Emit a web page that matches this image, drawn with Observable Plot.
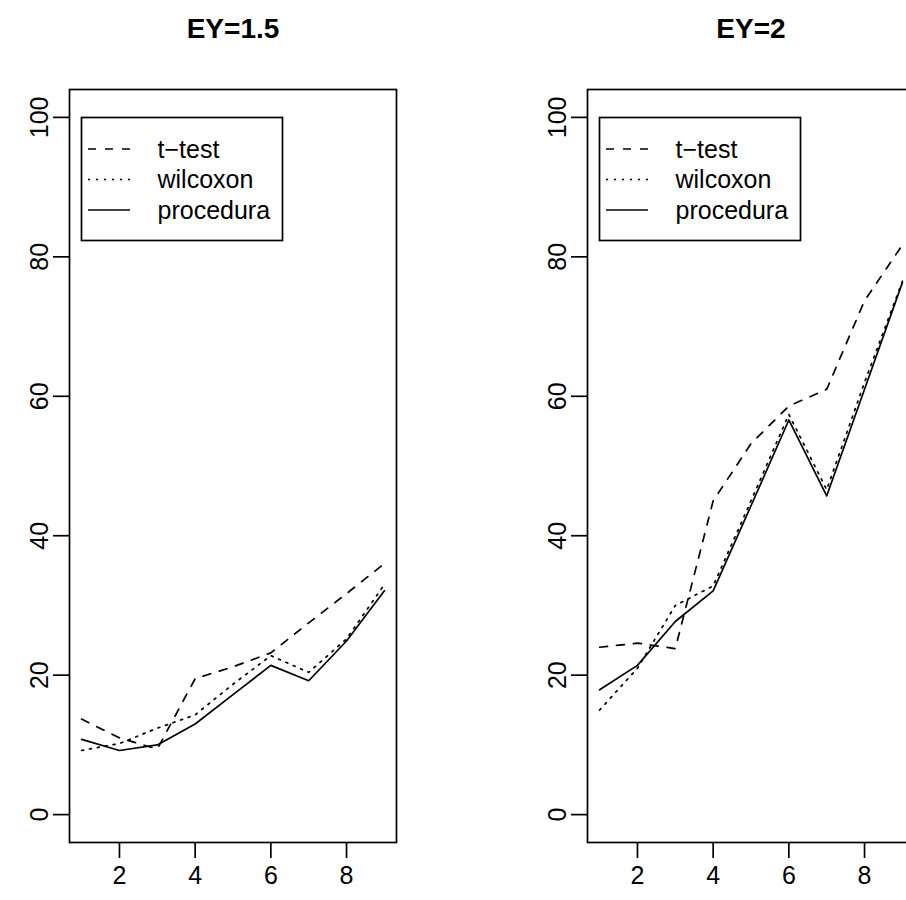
<!DOCTYPE html>
<html>
<head>
<meta charset="utf-8">
<script src="https://cdn.jsdelivr.net/npm/d3@7"></script>
<script src="https://cdn.jsdelivr.net/npm/@observablehq/plot@0.6"></script>
<style>
  html, body { margin: 0; padding: 0; background: white; }
  #wrap { position: relative; width: 906px; height: 900px; overflow: hidden; background: white; }
  #wrap > div { position: absolute; top: 0; width: 518px; height: 900px; }
  #wrap svg { max-width: none !important; }
  #p1 { left: 0; }
  #p2 { left: 518px; }
</style>
</head>
<body>
<div id="wrap"><div id="p1"></div><div id="p2"></div></div>
<script>
// ---- data ----
const xs = [1, 2, 3, 4, 5, 6, 7, 8, 9];
const panelTitles = ["EY=1.5", "EY=2"];
const seriesNames = ["t\u2212test", "wilcoxon", "procedura"];

const ttest15     = [13.7, 11.0, 9.4, 19.5, 21.2, 23.2, 27.5, 31.7, 36.0];
const wilcoxon15  = [9.2, 10.2, 12.4, 14.3, 18.7, 22.8, 20.4, 25.2, 33.0];
const procedura15 = [10.8, 9.2, 10.0, 13.0, 17.2, 21.4, 19.2, 24.9, 32.1];

const ttest2      = [24.0, 24.6, 23.8, 45.0, 53.2, 58.6, 61.0, 73.7, 81.7];
const wilcoxon2   = [15.0, 21.0, 30.0, 32.8, 45.0, 57.4, 46.6, 62.0, 76.5];
const procedura2  = [17.9, 21.4, 27.7, 32.1, 44.3, 56.6, 45.7, 61.0, 76.3];

const xTicks = [2, 4, 6, 8];
const yTicks = [0, 20, 40, 60, 80, 100];

// ---- styling ----
const FONT = "'Liberation Sans', Arial, Helvetica, sans-serif";
const dashes = ["8,9", "2,6", null];
const LW = 1.7;
const FS = 25;

function panel(title, series) {
  const rows = [];
  series.forEach((vals, si) => vals.forEach((v, i) => rows.push({x: xs[i], y: v, s: si})));
  const lineMarks = series.map((vals, si) =>
    Plot.lineY(rows.filter(r => r.s === si), {
      x: "x", y: "y", stroke: "black", strokeWidth: LW,
      strokeDasharray: dashes[si] ?? undefined
    })
  );
  const chart = Plot.plot({
    width: 518, height: 900,
    marginLeft: 69, marginRight: 122, marginTop: 89, marginBottom: 58,
    x: {domain: [0.68, 9.32], label: null},
    y: {domain: [-4, 104], label: null},
    style: {fontFamily: FONT, fontSize: FS + "px", background: "white", color: "black", overflow: "visible", maxWidth: "none"},
    marks: [
      Plot.axisX({ticks: xTicks, tickSize: 16, tickPadding: 8, fontSize: FS, strokeWidth: LW, label: null}),
      Plot.axisY({ticks: yTicks, tickSize: 16, tickPadding: 6, tickRotate: -90, fontSize: FS, strokeWidth: LW, label: null}),
      ...lineMarks,
      Plot.frame({stroke: "black", strokeWidth: LW}),
      Plot.text([title], {frameAnchor: "top", dy: -60, fontWeight: "bold", fontSize: 28, lineAnchor: "middle"})
    ]
  });
  // legend (top-left inside plot)
  const svg = d3.select(chart);
  const g = svg.append("g").attr("font-family", FONT).attr("font-size", FS).attr("text-anchor", "start");
  const bx = 81.5, by = 117.5, bw = 201, bh = 123;
  g.append("rect").attr("x", bx).attr("y", by).attr("width", bw).attr("height", bh)
    .attr("fill", "white").attr("stroke", "black").attr("stroke-width", LW);
  seriesNames.forEach((name, i) => {
    const ly = by + 31.5 + i * 30.5;
    g.append("line").attr("x1", bx + 6.5).attr("x2", bx + 48.5).attr("y1", ly).attr("y2", ly)
      .attr("stroke", "black").attr("stroke-width", LW)
      .attr("stroke-dasharray", dashes[i] ?? null);
    g.append("text").attr("x", bx + 76).attr("y", ly).attr("dy", "0.35em").text(name);
  });
  return chart;
}

document.getElementById("p1").appendChild(panel(panelTitles[0], [ttest15, wilcoxon15, procedura15]));
document.getElementById("p2").appendChild(panel(panelTitles[1], [ttest2, wilcoxon2, procedura2]));
</script>
</body>
</html>
